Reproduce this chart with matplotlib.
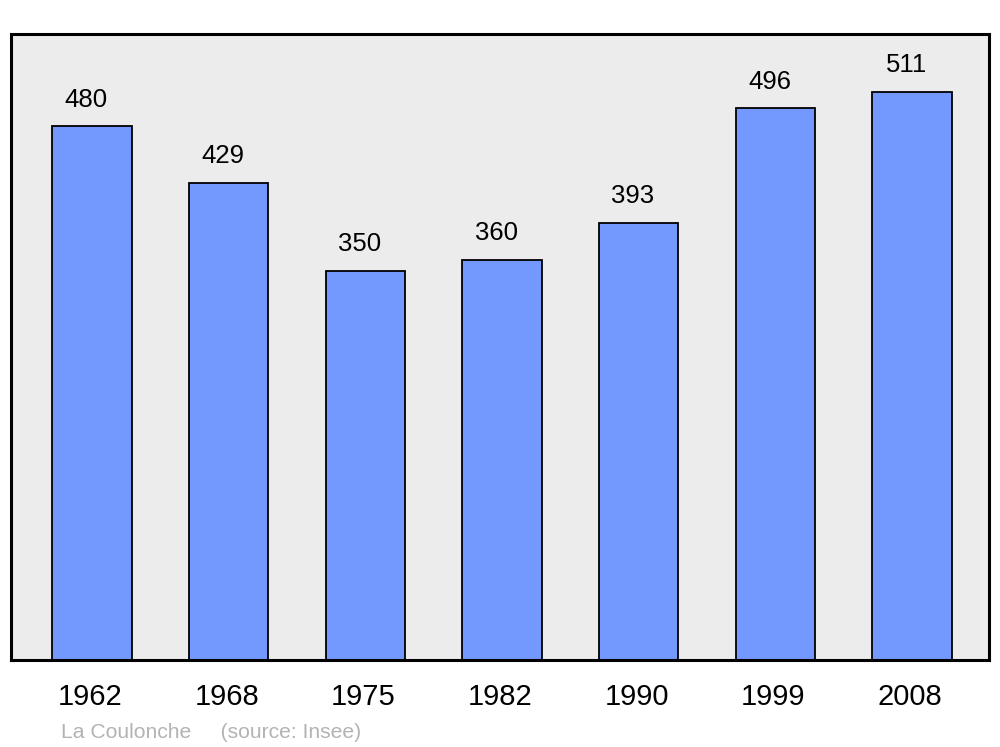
import matplotlib.pyplot as plt
from matplotlib.transforms import ScaledTranslation

years = ['1962', '1968', '1975', '1982', '1990', '1999', '2008']
population = [480, 429, 350, 360, 393, 496, 511]
caption = 'La Coulonche     (source: Insee)'

plt.rcParams['font.family'] = ['Liberation Sans', 'DejaVu Sans']

fig = plt.figure(figsize=(10, 7.47), dpi=100)
ax = fig.add_axes([0.011, 87 / 747, 0.978, 626 / 747])
ax.set_facecolor('#ececec')

x = list(range(len(years)))
bars = ax.bar(x, population, width=0.58, color='#7399ff', edgecolor='black', linewidth=1.3)

# value labels, sitting a little left of the bar centre like the original
for xi, v in zip(x, population):
    ax.annotate(str(v), (xi, v), xytext=(-4.3, 10.5), textcoords='offset points',
                ha='center', va='bottom', fontsize=18.5)

ax.set_xlim(-0.593, 6.563)
ax.set_ylim(0, 563)
ax.set_yticks([])
ax.set_xticks(x)
ax.set_xticklabels(years, fontsize=21)
ax.tick_params(axis='x', length=0, pad=16.5)
shift = ScaledTranslation(-1.5 / 72, 0, fig.dpi_scale_trans)
for lbl in ax.get_xticklabels():
    lbl.set_transform(lbl.get_transform() + shift)
for sp in ax.spines.values():
    sp.set_linewidth(2.2)

fig.text(0.061, 1 - 732 / 747, caption, fontsize=15.2, color='#b3b3b3', va='center', ha='left')

fig.savefig('out.png', dpi=100)
